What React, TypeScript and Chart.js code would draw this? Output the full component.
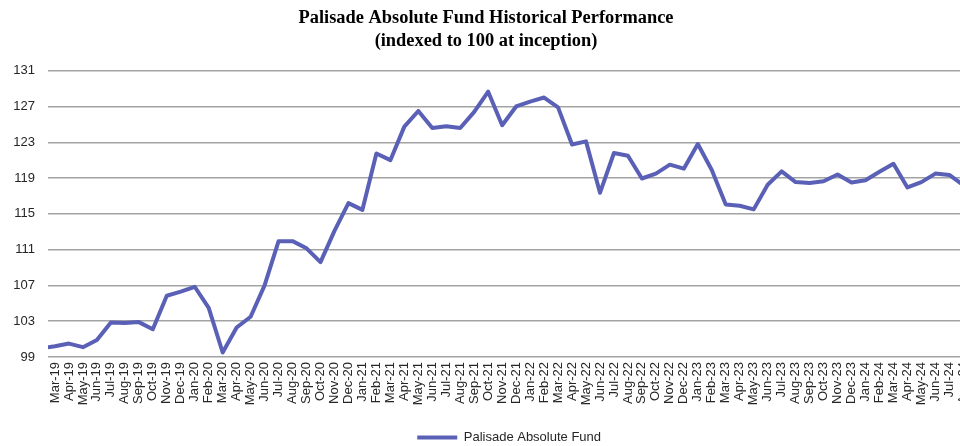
import React, { useEffect, useRef } from "react";
import { Chart, registerables } from "chart.js";

Chart.register(...registerables);

const titleLines = ["Palisade Absolute Fund Historical Performance", "(indexed to 100 at inception)"];
const seriesName = "Palisade Absolute Fund";

// first entry is the inception point (index 100), left of the visible axis range
const months = [
  "Feb-19",
  "Mar-19", "Apr-19", "May-19", "Jun-19", "Jul-19", "Aug-19", "Sep-19", "Oct-19", "Nov-19", "Dec-19",
  "Jan-20", "Feb-20", "Mar-20", "Apr-20", "May-20", "Jun-20", "Jul-20", "Aug-20", "Sep-20", "Oct-20", "Nov-20", "Dec-20",
  "Jan-21", "Feb-21", "Mar-21", "Apr-21", "May-21", "Jun-21", "Jul-21", "Aug-21", "Sep-21", "Oct-21", "Nov-21", "Dec-21",
  "Jan-22", "Feb-22", "Mar-22", "Apr-22", "May-22", "Jun-22", "Jul-22", "Aug-22", "Sep-22", "Oct-22", "Nov-22", "Dec-22",
  "Jan-23", "Feb-23", "Mar-23", "Apr-23", "May-23", "Jun-23", "Jul-23", "Aug-23", "Sep-23", "Oct-23", "Nov-23", "Dec-23",
  "Jan-24", "Feb-24", "Mar-24", "Apr-24", "May-24", "Jun-24", "Jul-24", "Aug-24",
];

const fundValues = [
  100,
  100.2, 100.5, 100.1, 100.9, 102.85, 102.8, 102.9, 102.1, 105.85, 106.3,
  106.85, 104.5, 99.5, 102.3, 103.5, 107.0, 111.95, 111.95, 111.15, 109.6, 113.1, 116.2,
  115.45, 121.75, 121.0, 124.75, 126.5, 124.6, 124.8, 124.6, 126.4, 128.65, 124.9, 127.0,
  127.55, 128.0, 126.9, 122.75, 123.1, 117.35, 121.8, 121.5, 118.95, 119.5, 120.5, 120.05,
  122.8, 119.9, 116.05, 115.9, 115.5, 118.25, 119.75, 118.55, 118.45, 118.65, 119.4, 118.5,
  118.75, 119.7, 120.6, 117.95, 118.55, 119.5, 119.35, 118.2,
];

const yMin = 99;
const yMax = 131;
const yStep = 4;

const LINE_COLOR = "#5a60b6";
const GRID_COLOR = "#a3a3a3";
const TEXT_COLOR = "#262626";

export default function App() {
  const canvasRef = useRef<HTMLCanvasElement | null>(null);

  useEffect(() => {
    const canvas = canvasRef.current;
    if (!canvas) return;
    const chart = new Chart(canvas, {
      type: "line",
      data: {
        labels: months,
        datasets: [
          {
            label: seriesName,
            data: fundValues,
            borderColor: LINE_COLOR,
            backgroundColor: LINE_COLOR,
            borderWidth: 4,
            pointRadius: 0,
            tension: 0,
            borderJoinStyle: "round",
            borderCapStyle: "round",
          },
        ],
      },
      options: {
        responsive: false,
        animation: false,
        devicePixelRatio: 1,
        layout: { padding: { left: 0, right: 12, top: 0, bottom: -8 } },
        plugins: {
          title: {
            display: true,
            text: titleLines,
            color: "#000",
            font: { family: "'Liberation Serif', 'Times New Roman', serif", size: 18.4, weight: "bold", lineHeight: 1.25 },
            padding: { top: 7, bottom: 17.7 },
          },
          legend: {
            display: true,
            position: "bottom",
            fullSize: false,
            labels: {
              color: TEXT_COLOR,
              font: { family: "'Liberation Sans', Arial, sans-serif", size: 13 },
              boxWidth: 40,
              boxHeight: 4,
              padding: 2,
              generateLabels: (c: any) =>
                c.data.datasets.map((ds: any, i: number) => ({
                  text: ds.label,
                  fillStyle: LINE_COLOR,
                  strokeStyle: LINE_COLOR,
                  lineWidth: 0,
                  hidden: false,
                  datasetIndex: i,
                  fontColor: TEXT_COLOR,
                })),
            },
          },
          tooltip: { enabled: false },
        },
        scales: {
          x: {
            type: "category",
            min: "Mar-19",
            offset: true,
            grid: { display: false, drawTicks: false },
            border: { display: false },
            ticks: {
              autoSkip: false,
              maxRotation: 90,
              minRotation: 90,
              padding: 5,
              color: TEXT_COLOR,
              font: { family: "'Liberation Sans', Arial, sans-serif", size: 13 },
            },
            afterFit: (scale: any) => {
              scale.height = 72;
            },
          },
          y: {
            min: yMin,
            max: yMax,
            grid: { color: GRID_COLOR, lineWidth: 1.5, drawTicks: false },
            border: { display: false },
            ticks: {
              stepSize: yStep,
              padding: 13,
              color: TEXT_COLOR,
              font: { family: "'Liberation Sans', Arial, sans-serif", size: 13 },
            },
            afterFit: (scale: any) => {
              scale.width = 48;
            },
          },
        },
      },
    });
    return () => chart.destroy();
  }, []);

  return (
    <div style={{ position: "fixed", left: 0, top: 0, width: 960, height: 446, overflow: "hidden", background: "#fff" }}>
      <canvas ref={canvasRef} width={984} height={446} style={{ display: "block", width: 984, height: 446 }} />
    </div>
  );
}
